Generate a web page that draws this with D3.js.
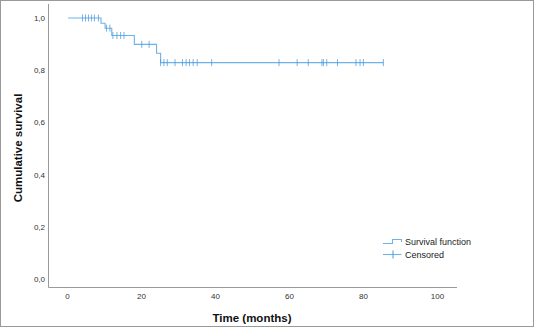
<!DOCTYPE html>
<html>
<head>
<meta charset="utf-8">
<script src="https://cdn.jsdelivr.net/npm/d3@7"></script>
<style>
  html, body { margin: 0; padding: 0; background: #fff; }
  svg { display: block; }
</style>
</head>
<body>
<svg id="chart" width="534" height="327"></svg>
<script>
// ---- data ----
const xTicks = [0, 20, 40, 60, 80, 100];
const yTicks = [0, 0.2, 0.4, 0.6, 0.8, 1.0];
const eventTimes = [9.2, 10.3, 12.1, 18.2, 24.2, 25.3];
const survivalAfter = [0.980, 0.961, 0.933, 0.899, 0.865, 0.829];
const censorTimes = [4.2, 5.0, 5.8, 6.6, 7.4, 8.5,
  10.7, 11.6, 12.4, 13.5, 14.5, 15.4,
  20.2, 22.2,
  25.3, 26.2, 27.1, 29.2, 31.2, 32.2, 33.1, 34.1, 35.2, 39.1,
  57.3, 62.2, 65.2, 68.9, 69.3, 70.2, 73.1, 78.1, 79.2, 80.1, 85.5];
const startTime = 0.3;
const endTime = 85.5;
const legendLabels = ["Survival function", "Censored"];

// ---- drawing ----
const svg = d3.select("#chart");
const W = 534, H = 327;
const lineColor = "#6db2ea";
const markColor = "#4a98dc";
const axisColor = "#9a9a9a";

svg.append("rect").attr("x", 0.5).attr("y", 0.5).attr("width", W - 1).attr("height", H - 1)
  .attr("fill", "#fff").attr("stroke", "#9a9a9a");

const x = d3.scaleLinear().domain([0, 100]).range([67, 437]);
const y = d3.scaleLinear().domain([0, 1]).range([279, 18]);

const axisLeftX = 48.5, axisBottomY = 287.5;

// axes lines
svg.append("line").attr("x1", axisLeftX).attr("x2", axisLeftX).attr("y1", 4).attr("y2", axisBottomY)
  .attr("stroke", axisColor);
svg.append("line").attr("x1", axisLeftX).attr("x2", 457).attr("y1", axisBottomY).attr("y2", axisBottomY)
  .attr("stroke", axisColor);

const fmt = d => d3.format(".1f")(d).replace(".", ",");

// y tick labels
const yAxis = d3.axisLeft(y).tickValues(yTicks).tickFormat(fmt).tickSize(0).tickPadding(0);
const gy = svg.append("g").attr("transform", "translate(45,0)").call(yAxis);
gy.select(".domain").remove();
gy.selectAll("text").attr("font-family", "Liberation Sans, Arial, sans-serif")
  .attr("font-size", 8).attr("fill", "#333");

// x tick labels
const xAxis = d3.axisBottom(x).tickValues(xTicks).tickFormat(d3.format("d")).tickSize(0).tickPadding(0);
const gx = svg.append("g").attr("transform", "translate(0,293)").call(xAxis);
gx.select(".domain").remove();
gx.selectAll("text").attr("font-family", "Liberation Sans, Arial, sans-serif")
  .attr("font-size", 8).attr("fill", "#333");

// axis titles
svg.append("text").attr("x", 252).attr("y", 322).attr("text-anchor", "middle")
  .attr("font-family", "Liberation Sans, Arial, sans-serif").attr("font-size", 11.5).attr("font-weight", "bold")
  .attr("fill", "#111").text("Time (months)");
svg.append("text").attr("transform", "translate(22,148) rotate(-90)").attr("text-anchor", "middle")
  .attr("font-family", "Liberation Sans, Arial, sans-serif").attr("font-size", 11.5).attr("font-weight", "bold")
  .attr("fill", "#111").text("Cumulative survival");

// survival step curve
const pts = [[startTime, 1]];
let s = 1;
eventTimes.forEach((t, i) => { pts.push([t, s]); s = survivalAfter[i]; pts.push([t, s]); });
pts.push([endTime, s]);
const line = d3.line().x(d => x(d[0])).y(d => y(d[1]));
svg.append("path").attr("d", line(pts)).attr("fill", "none")
  .attr("stroke", lineColor).attr("stroke-width", 1.1);

function survAt(t) {
  let v = 1;
  eventTimes.forEach((e, i) => { if (t >= e) v = survivalAfter[i]; });
  return v;
}
svg.append("g").selectAll("line").data(censorTimes).join("line")
  .attr("x1", d => x(d)).attr("x2", d => x(d))
  .attr("y1", d => y(survAt(d)) - 3.5).attr("y2", d => y(survAt(d)) + 3.5)
  .attr("stroke", markColor).attr("stroke-width", 1).attr("opacity", 0.75);

// legend
const lg = svg.append("g");
lg.append("path").attr("d", "M383,243.5 H392.5 V239.5 H401.5 V242")
  .attr("fill", "none").attr("stroke", lineColor).attr("stroke-width", 1.1);
lg.append("line").attr("x1", 383).attr("x2", 401.5).attr("y1", 254.5).attr("y2", 254.5)
  .attr("stroke", lineColor).attr("stroke-width", 1.1);
lg.append("line").attr("x1", 393).attr("x2", 393).attr("y1", 250.5).attr("y2", 258.5)
  .attr("stroke", markColor);
lg.selectAll("text").data(legendLabels).join("text")
  .attr("x", 405).attr("y", (d, i) => 244.5 + i * 13)
  .attr("font-family", "Liberation Sans, Arial, sans-serif").attr("font-size", 9)
  .attr("fill", "#222").text(d => d);
</script>
</body>
</html>
